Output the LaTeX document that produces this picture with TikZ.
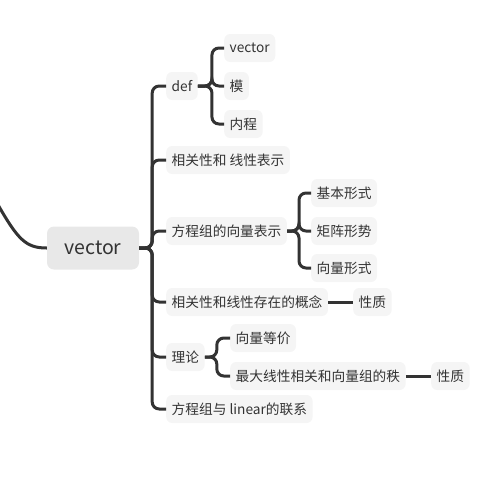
\documentclass[tikz,border=0pt]{standalone}
\usepackage{fontspec}
\setmainfont{Noto Sans CJK SC}
\usetikzlibrary{positioning}
\definecolor{ink}{HTML}{333333}
\definecolor{leaf}{HTML}{F5F5F5}
\definecolor{root}{HTML}{E8E8E8}
\begin{document}
\begin{tikzpicture}[x=1pt, y=-1pt,
  topic/.style={fill=root, rounded corners=7pt, text=ink, font=\fontsize{19.5}{22}\selectfont, minimum width=92pt, minimum height=43pt},
  item/.style={fill=leaf, rounded corners=6pt, text=ink, font=\fontsize{13.7}{16}\selectfont, anchor=west, inner xsep=5.5pt, minimum height=28pt},
  link/.style={draw=ink, line width=3pt, rounded corners=7pt}]

\useasboundingbox (0,0) rectangle (503,483);

% main topic
\node[topic] (vec) at (93,248) {vector};
\coordinate (in) at (-3,203);

% first level
\node[item] (def) at (166,86) {def};
\node[item] (rel) at (166,160) {相关性和 线性表示};
\node[item] (eqs) at (166,231) {方程组的向量表示};
\node[item] (lin) at (166,302) {相关性和线性存在的概念};
\node[item] (thy) at (166,357) {理论};
\node[item] (sys) at (166,409) {方程组与 linear的联系};

% second level
\node[item] (dv) at (224,48) {vector};
\node[item] (dm) at (224,86) {模};
\node[item] (dn) at (224,124) {内程};
\node[item] (eb) at (311,193) {基本形式};
\node[item] (em) at (311,231) {矩阵形势};
\node[item] (ev) at (311,268) {向量形式};
\node[item] (lp) at (353,302) {性质};
\node[item] (te) at (230,338) {向量等价};
\node[item] (tr) at (230,376) {最大线性相关和向量组的秩};
\node[item] (tp) at (431,376) {性质};

% connectors
\draw[link] (in) .. controls (18,240) and (26,248) .. (vec.west);
\foreach \n in {def,rel,eqs,lin,thy,sys}
  \draw[link] (vec.east) -- ++(13,0) |- (\n.west);
\foreach \n in {dv,dm,dn}
  \draw[link] (def.east) -- ++(14,0) |- (\n.west);
\foreach \n in {eb,em,ev}
  \draw[link] (eqs.east) -- ++(12,0) |- (\n.west);
\foreach \n in {te,tr}
  \draw[link] (thy.east) -- ++(12,0) |- (\n.west);
\draw[link] (lin.east) -- (lp.west);
\draw[link] (tr.east) -- (tp.west);

\end{tikzpicture}
\end{document}
